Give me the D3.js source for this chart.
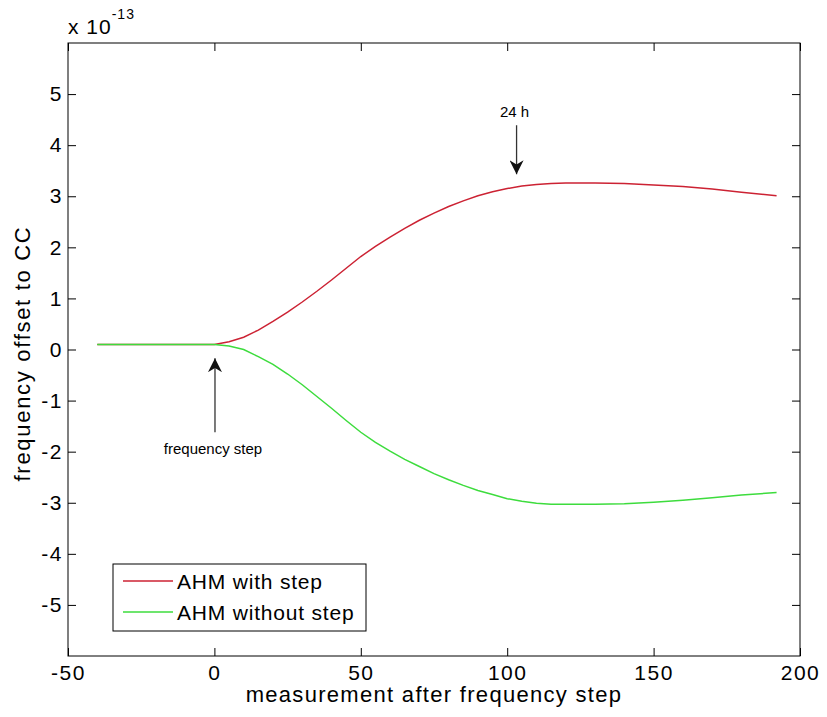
<!DOCTYPE html>
<html>
<head>
<meta charset="utf-8">
<script src="https://cdn.jsdelivr.net/npm/d3@7"></script>
<style>
  html, body { margin: 0; padding: 0; background: #fff; }
  svg { display: block; }
  text { font-family: "Liberation Sans", Arial, sans-serif; fill: #000; }
</style>
</head>
<body>
<svg id="chart" width="827" height="717"></svg>
<script>
// ---- data ----
const xValues = [-40, -30, -20, -10, 0, 5, 10, 15, 20, 25, 30, 35, 40, 45, 50, 55, 60, 65, 70, 75, 80, 85, 90, 95, 100, 105, 110, 115, 120, 130, 140, 150, 160, 170, 180, 192];
const withStep = [0.1, 0.1, 0.1, 0.1, 0.1, 0.15, 0.24, 0.38, 0.55, 0.73, 0.93, 1.14, 1.36, 1.59, 1.82, 2.02, 2.20, 2.37, 2.53, 2.67, 2.80, 2.91, 3.01, 3.09, 3.15, 3.20, 3.23, 3.25, 3.26, 3.26, 3.25, 3.22, 3.19, 3.14, 3.08, 3.01];
const withoutStep = [0.1, 0.1, 0.1, 0.1, 0.1, 0.07, 0.0, -0.14, -0.29, -0.48, -0.69, -0.92, -1.15, -1.39, -1.62, -1.82, -1.99, -2.15, -2.29, -2.43, -2.55, -2.66, -2.76, -2.84, -2.92, -2.97, -3.01, -3.03, -3.03, -3.03, -3.02, -2.99, -2.95, -2.90, -2.85, -2.80];
const seriesNames = ["AHM with step", "AHM without step"];
const xTicks = [-50, 0, 50, 100, 150, 200];
const yTicks = [-5, -4, -3, -2, -1, 0, 1, 2, 3, 4, 5];
const xLabel = "measurement after frequency step";
const yLabel = "frequency offset to CC";
const annotations = [
  { text: "24 h", x: 103.2, yFrom: 4.39, yTo: 3.43, textY: 4.56 },
  { text: "frequency step", x: 0.2, yFrom: -1.62, yTo: -0.17, textY: -2.04 }
];

// ---- layout ----
const svg = d3.select("#chart");
const x = d3.scaleLinear().domain([-50, 200]).range([68, 800]);
const y = d3.scaleLinear().domain([-6, 6]).range([656, 43]);
const colors = ["#cc2233", "#3ddc3d"];
const tickFont = 21;
const plainFormat = d => String(d);

// box
svg.append("rect")
  .attr("x", x(-50)).attr("y", y(6))
  .attr("width", x(200) - x(-50)).attr("height", y(-6) - y(6))
  .attr("fill", "none").attr("stroke", "#000").attr("stroke-width", 1);

function styleAxis(g, showLabels) {
  g.select(".domain").remove();
  g.selectAll(".tick line").attr("stroke", "#000");
  g.selectAll(".tick text")
    .style("font-size", tickFont + "px")
    .style("letter-spacing", "1.5px")
    .attr("fill", "#000");
  if (!showLabels) g.selectAll(".tick text").remove();
}

svg.append("g").attr("transform", `translate(0,${y(-6)})`)
  .call(d3.axisBottom(x).tickValues(xTicks).tickSizeInner(-8).tickSizeOuter(0).tickPadding(9).tickFormat(plainFormat))
  .call(g => styleAxis(g, true));
svg.append("g").attr("transform", `translate(0,${y(6)})`)
  .call(d3.axisTop(x).tickValues(xTicks).tickSizeInner(-8).tickSizeOuter(0))
  .call(g => styleAxis(g, false));
svg.append("g").attr("transform", `translate(${x(-50)},0)`)
  .call(d3.axisLeft(y).tickValues(yTicks).tickSizeInner(-8).tickSizeOuter(0).tickPadding(5).tickFormat(plainFormat))
  .call(g => styleAxis(g, true));
svg.append("g").attr("transform", `translate(${x(200)},0)`)
  .call(d3.axisRight(y).tickValues(yTicks).tickSizeInner(-8).tickSizeOuter(0))
  .call(g => styleAxis(g, false));

// exponent label
const expo = svg.append("text").attr("x", x(-50)).attr("y", 34).style("font-size", "21px").style("letter-spacing", "1px");
expo.append("tspan").text("x 10");
expo.append("tspan").attr("dy", -15).style("font-size", "14px").text("-13");

// axis labels
svg.append("text")
  .attr("x", (x(-50) + x(200)) / 2).attr("y", 702)
  .attr("text-anchor", "middle")
  .style("font-size", "22px").style("letter-spacing", "1.3px")
  .text(xLabel);
svg.append("text")
  .attr("transform", `translate(30,${(y(-6) + y(6)) / 2 + 4}) rotate(-90)`)
  .attr("text-anchor", "middle")
  .style("font-size", "22px").style("letter-spacing", "1.7px")
  .text(yLabel);

// lines
const line = d3.line().x((d, i) => x(xValues[i])).y(d => y(d));
[withStep, withoutStep].forEach((s, i) => {
  svg.append("path").datum(s)
    .attr("d", line)
    .attr("fill", "none")
    .attr("stroke", colors[i])
    .attr("stroke-width", 1.5);
});

// annotations with arrows
const defs = svg.append("defs");
defs.append("marker")
  .attr("id", "arrow").attr("viewBox", "0 0 10 10")
  .attr("refX", 10).attr("refY", 5)
  .attr("markerWidth", 14).attr("markerHeight", 14)
  .attr("markerUnits", "userSpaceOnUse")
  .attr("orient", "auto")
  .append("path").attr("d", "M0,0 L10,5 L0,10 L3,5 Z").attr("fill", "#111");

annotations.forEach(a => {
  svg.append("line")
    .attr("x1", x(a.x)).attr("x2", x(a.x))
    .attr("y1", y(a.yFrom)).attr("y2", y(a.yTo))
    .attr("stroke", "#333").attr("stroke-width", 1.3)
    .attr("marker-end", "url(#arrow)");
  svg.append("text")
    .attr("x", x(a.x) - 2).attr("y", y(a.textY))
    .attr("text-anchor", "middle")
    .style("font-size", "15px")
    .text(a.text);
});

// legend
const lg = svg.append("g");
lg.append("rect")
  .attr("x", 113).attr("y", 564).attr("width", 253).attr("height", 67)
  .attr("fill", "#fff").attr("stroke", "#000").attr("stroke-width", 1);
seriesNames.forEach((name, i) => {
  const ly = 581 + i * 31;
  lg.append("line").attr("x1", 123).attr("x2", 173).attr("y1", ly).attr("y2", ly)
    .attr("stroke", colors[i]).attr("stroke-width", 1.3);
  lg.append("text").attr("x", 177).attr("y", ly + 8)
    .style("font-size", "21px").style("letter-spacing", "0.8px")
    .text(name);
});
</script>
</body>
</html>
